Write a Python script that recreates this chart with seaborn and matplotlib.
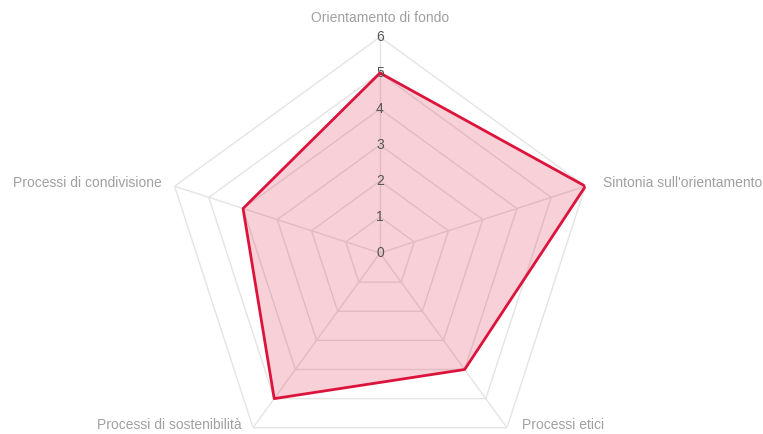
import numpy as np
import seaborn as sns
import matplotlib.pyplot as plt

sns.set_style("white")
plt.rcParams["font.family"] = ["Liberation Sans", "DejaVu Sans"]

# Dati
categorie = ["Orientamento di fondo", "Sintonia sull'orientamento", "Processi etici",
             "Processi di sostenibilità", "Processi di condivisione"]
valori = [5, 6, 4, 5, 4]
livelli = [0, 1, 2, 3, 4, 5, 6]

n = len(categorie)
angoli = np.linspace(0, 2 * np.pi, n, endpoint=False)
chiuso = np.append(angoli, angoli[0])

fig = plt.figure(figsize=(7.63, 4.34), dpi=100)
W, H = 763, 434
cx, cy, R = 380, 253, 216
ax = fig.add_axes([(cx - R) / W, (H - cy - R) / H, 2 * R / W, 2 * R / H], projection="polar")
ax.set_theta_zero_location("N")
ax.set_theta_direction(-1)
ax.set_ylim(0, 6)
ax.grid(False)
ax.spines["polar"].set_visible(False)
ax.set_xticks([])
ax.set_yticks([])
ax.patch.set_alpha(0)

griglia = "#e4e4e4"
for lv in livelli[1:]:
    ax.plot(chiuso, [lv] * (n + 1), color=griglia, lw=1, zorder=1)
for a in angoli:
    ax.plot([a, a], [0, 6], color=griglia, lw=1, zorder=1)

rosso = "#dc143c"
ax.fill(chiuso, np.append(valori, valori[0]), color=rosso, alpha=0.2, lw=0, zorder=2)
ax.plot(chiuso, np.append(valori, valori[0]), color=rosso, lw=2, zorder=3)

for lv in livelli:
    ax.text(0, lv, str(lv), ha="center", va="center", fontsize=10, color="#555555", zorder=4)

# etichette degli assi (spostamento in punti dal vertice esterno)
pos = [((0, 14), "center"),
       ((13, 2), "left"),
       ((11, 2), "left"),
       ((-8, 2), "right"),
       ((-9, 2), "right")]
for a, ((dx, dy), ha), nome in zip(angoli, pos, categorie):
    ax.annotate(nome, xy=(a, 6), xytext=(dx, dy), textcoords="offset points",
                ha=ha, va="center", fontsize=10, color="#a0a0a0", annotation_clip=False)

fig.savefig("out.png", dpi=100)
